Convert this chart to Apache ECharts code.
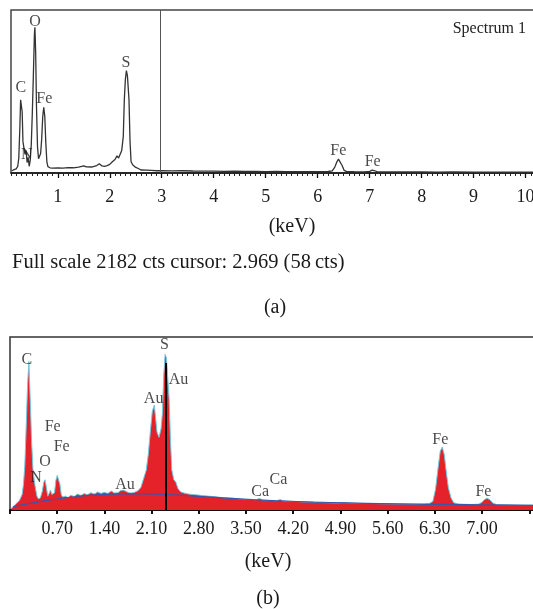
<!DOCTYPE html>
<html>
<head>
<meta charset="utf-8">
<script src="https://cdn.jsdelivr.net/npm/echarts@6/dist/echarts.min.js"></script>
<style>
  html, body { margin: 0; padding: 0; background: #fff; }
  #chart { width: 533px; height: 609px; }
</style>
</head>
<body>
<div id="chart"></div>
<script>
// ---- panel (a): spectrum 1 ----
var energyA = [0.12,0.16,0.20,0.23,0.25,0.27,0.285,0.30,0.315,0.33,0.35,0.37,0.39,0.41,0.43,0.45,0.47,0.49,0.51,0.53,0.55,0.56,0.575,0.59,0.61,0.63,0.65,0.67,0.69,0.71,0.73,0.75,0.77,0.79,0.81,0.85,0.9,1.0,1.1,1.2,1.3,1.4,1.5,1.55,1.65,1.75,1.8,1.85,1.9,1.95,2.0,2.05,2.10,2.14,2.17,2.20,2.23,2.26,2.28,2.30,2.32,2.34,2.37,2.39,2.41,2.44,2.47,2.50,2.55,2.60,2.7,2.8,2.9,3.0,3.2,3.4,3.6,3.8,4.0,4.2,4.4,4.6,4.8,5.0,5.2,5.4,5.6,5.8,6.0,6.2,6.28,6.33,6.37,6.40,6.43,6.47,6.51,6.56,6.7,6.9,7.0,7.05,7.1,7.15,7.4,7.7,8.0,8.3,8.6,9.0,9.4,9.8,10.2];
var countsA = [30,45,55,90,200,600,980,1000,820,420,330,250,300,140,210,90,170,380,800,1300,1850,1950,1600,900,350,190,210,260,450,750,880,760,400,150,85,70,65,68,66,72,70,78,95,82,80,100,125,95,90,100,115,150,180,230,200,250,300,490,980,1250,1370,1300,980,420,150,110,105,75,60,40,38,34,30,32,28,30,27,25,26,22,24,20,22,19,20,18,19,17,18,20,28,80,150,185,175,100,35,18,17,16,22,38,30,16,15,14,15,13,14,12,13,11,12];
var fullScaleA = 2182;
var cursorKev = 2.969;
var tickLabelsA = [1,2,3,4,5,6,7,8,9,10];
var peakNamesA = ['C','N','O','Fe','S','Fe','Fe'];
var peakKevA = [0.287,0.402,0.562,0.741,2.312,6.397,7.058];
var peakCtsA = [1134,241,2026,991,1477,299,151];

// ---- panel (b) ----
var energyB = [0.02,0.06,0.10,0.14,0.18,0.20,0.22,0.24,0.26,0.28,0.30,0.32,0.34,0.36,0.38,0.40,0.42,0.45,0.48,0.50,0.52,0.54,0.56,0.58,0.60,0.62,0.64,0.66,0.68,0.70,0.72,0.74,0.76,0.78,0.82,0.86,0.90,0.95,1.00,1.05,1.10,1.15,1.20,1.25,1.30,1.35,1.40,1.45,1.50,1.55,1.60,1.64,1.68,1.72,1.76,1.80,1.85,1.90,1.94,1.98,2.02,2.05,2.08,2.11,2.14,2.16,2.18,2.21,2.24,2.26,2.28,2.30,2.32,2.34,2.36,2.38,2.40,2.43,2.46,2.49,2.53,2.58,2.65,2.75,2.85,2.95,3.05,3.15,3.25,3.35,3.45,3.55,3.65,3.70,3.75,3.85,3.95,4.01,4.05,4.15,4.25,4.35,4.45,4.55,4.65,4.75,4.85,4.95,5.05,5.15,5.25,5.35,5.45,5.55,5.65,5.75,5.85,5.95,6.05,6.15,6.22,6.27,6.31,6.35,6.38,6.41,6.44,6.47,6.50,6.54,6.58,6.65,6.75,6.85,6.95,7.00,7.04,7.08,7.12,7.16,7.22,7.35,7.50,7.65,7.80];
var countsB = [10,25,40,55,90,150,260,480,720,860,640,400,240,170,120,80,65,70,110,160,175,130,80,95,115,90,80,100,170,200,205,150,90,75,80,72,85,78,92,84,95,88,100,92,104,96,102,95,110,98,100,112,115,108,100,98,103,112,130,180,230,320,450,570,607,530,450,420,470,560,780,900,880,760,640,400,230,175,160,125,105,98,92,88,84,80,76,72,70,66,63,62,60,66,58,55,54,60,52,50,49,47,46,45,43,42,41,42,40,39,38,38,37,36,36,35,35,34,34,35,38,50,120,250,340,364,320,220,130,70,42,34,33,32,34,45,62,68,58,40,31,30,29,28,28];
var energyBg = [0.05,0.3,0.6,1.0,1.5,2.0,2.5,3.0,3.5,4.0,4.5,5.0,5.5,6.0,6.5,7.0,7.8];
var countsBg = [20,38,58,78,92,93,86,74,62,53,46,41,37,34,32,30,27];
var markerKevB = 2.31;
var markerTopB = 850;
var peakNamesB = ['C','S','Au','Au','Fe','Fe','O','N','Au','Ca','Ca','Fe','Fe'];
var peakKevB = [0.248,2.29,2.50,2.13,0.633,0.767,0.519,0.386,1.706,3.71,3.98,6.38,7.02];
var peakCtsB = [867,954,751,642,481,365,279,185,145,106,177,405,106];

var serif = '"Liberation Serif", "DejaVu Serif", serif';

function pairs(xs, ys) {
    var out = [];
    for (var i = 0; i < xs.length; i++) out.push([xs[i], ys[i]]);
    return out;
}
function labelPoints(xs, ys, names) {
    var out = [];
    for (var i = 0; i < xs.length; i++) out.push([xs[i], ys[i], names[i]]);
    return out;
}
function peakLabels(xi, yi, data, size) {
    return {
        type: 'scatter', xAxisIndex: xi, yAxisIndex: yi, silent: true, z: 10,
        symbolSize: 1, itemStyle: { color: 'rgba(0,0,0,0)' },
        label: {
            show: true, position: 'inside', color: '#1a1a1a',
            fontFamily: serif, fontSize: size,
            formatter: function (p) { return p.data[2]; }
        },
        data: data
    };
}

var chart = echarts.init(document.getElementById('chart'));

// grids run past the right edge of the page so the right frame line is cut off
var option = {
    animation: false,
    backgroundColor: '#fff',
    title: {
        text: 'Spectrum 1', right: 2, top: 16,
        textStyle: { fontFamily: serif, fontSize: 16, fontWeight: 'normal', color: '#222' }
    },
    grid: [
        // (a) data
        { left: 11, width: 525, top: 10, height: 163, outerBoundsMode: 'none', show: true, borderColor: '#444', borderWidth: 1.5 },
        // (b) data
        { left: 10, width: 526, top: 337, height: 173, outerBoundsMode: 'none', show: true, borderColor: '#333', borderWidth: 1.5 },
        // (a) major ticks and labels, starts at 1 keV
        { left: 57.78, width: 478.22, top: 10, height: 163, outerBoundsMode: 'none' }
    ],
    xAxis: [
        {
            gridIndex: 0, type: 'value', min: 0.1, max: 10.2, interval: 0.1,
            axisLine: { lineStyle: { color: '#111', width: 1.5 } },
            axisTick: { length: 3, lineStyle: { color: '#222', width: 1 } },
            axisLabel: { show: false }, splitLine: { show: false }
        },
        {
            gridIndex: 1, type: 'value', min: 0, max: 7.8, interval: 0.7,
            axisLine: { lineStyle: { color: '#111', width: 2 } },
            axisTick: { length: 4, lineStyle: { color: '#111', width: 2 } },
            axisLabel: {
                margin: 10, fontFamily: serif, fontSize: 18, color: '#1a1a1a',
                formatter: function (v) { return (v < 0.01 || v > 7.2) ? '' : v.toFixed(2); }
            },
            splitLine: { show: false }
        },
        {
            gridIndex: 2, type: 'value', min: 1, max: 10.2, interval: 1,
            axisLine: { show: false },
            axisTick: { length: 5, lineStyle: { color: '#111', width: 1.3 } },
            axisLabel: {
                margin: 15, fontFamily: serif, fontSize: 18, color: '#1a1a1a',
                formatter: function (v) {
                    var r = Math.round(v);
                    return (Math.abs(v - r) < 0.001 && tickLabelsA.indexOf(r) >= 0) ? String(r) : '';
                }
            },
            splitLine: { show: false }
        }
    ],
    yAxis: [
        { gridIndex: 0, type: 'value', min: 0, max: fullScaleA, show: false },
        { gridIndex: 1, type: 'value', min: 0, max: 1000, show: false },
        { gridIndex: 2, type: 'value', min: 0, max: 1, show: false }
    ],
    series: [
        {
            type: 'line', xAxisIndex: 0, yAxisIndex: 0, showSymbol: false, silent: true,
            lineStyle: { color: '#333', width: 1.3 },
            data: pairs(energyA, countsA),
            markLine: {
                silent: true, symbol: 'none', label: { show: false },
                lineStyle: { color: '#555', width: 1, type: 'solid' },
                data: [{ xAxis: cursorKev }]
            }
        },
        {
            type: 'line', xAxisIndex: 1, yAxisIndex: 1, showSymbol: false, silent: true,
            lineStyle: { color: '#72c9df', width: 1 },
            areaStyle: { color: '#e5222a', opacity: 1 },
            data: pairs(energyB, countsB),
            markLine: {
                silent: true, symbol: 'none', label: { show: false },
                lineStyle: { color: '#000', width: 2, type: 'solid' },
                data: [[{ coord: [markerKevB, 0] }, { coord: [markerKevB, markerTopB] }]]
            }
        },
        {
            type: 'line', xAxisIndex: 1, yAxisIndex: 1, showSymbol: false, silent: true,
            smooth: true,
            lineStyle: { color: '#3b55a8', width: 1.2 },
            data: pairs(energyBg, countsBg)
        },
        peakLabels(0, 0, labelPoints(peakKevA, peakCtsA, peakNamesA), 16),
        peakLabels(1, 1, labelPoints(peakKevB, peakCtsB, peakNamesB), 16)
    ],
    graphic: [
        { type: 'text', x: 292, y: 227, style: { text: '(keV)', font: '20px ' + serif, fill: '#1a1a1a', align: 'center', verticalAlign: 'middle' } },
        { type: 'text', x: 12, y: 263, style: { text: 'Full scale 2182 cts cursor: 2.969 (58\u2009cts)', font: '20.5px ' + serif, fill: '#1a1a1a', align: 'left', verticalAlign: 'middle' } },
        { type: 'text', x: 275, y: 308, style: { text: '(a)', font: '20px ' + serif, fill: '#1a1a1a', align: 'center', verticalAlign: 'middle' } },
        { type: 'text', x: 268, y: 562, style: { text: '(keV)', font: '20px ' + serif, fill: '#1a1a1a', align: 'center', verticalAlign: 'middle' } },
        { type: 'text', x: 268, y: 599, style: { text: '(b)', font: '20px ' + serif, fill: '#1a1a1a', align: 'center', verticalAlign: 'middle' } }
    ]
};

chart.setOption(option);
</script>
</body>
</html>
